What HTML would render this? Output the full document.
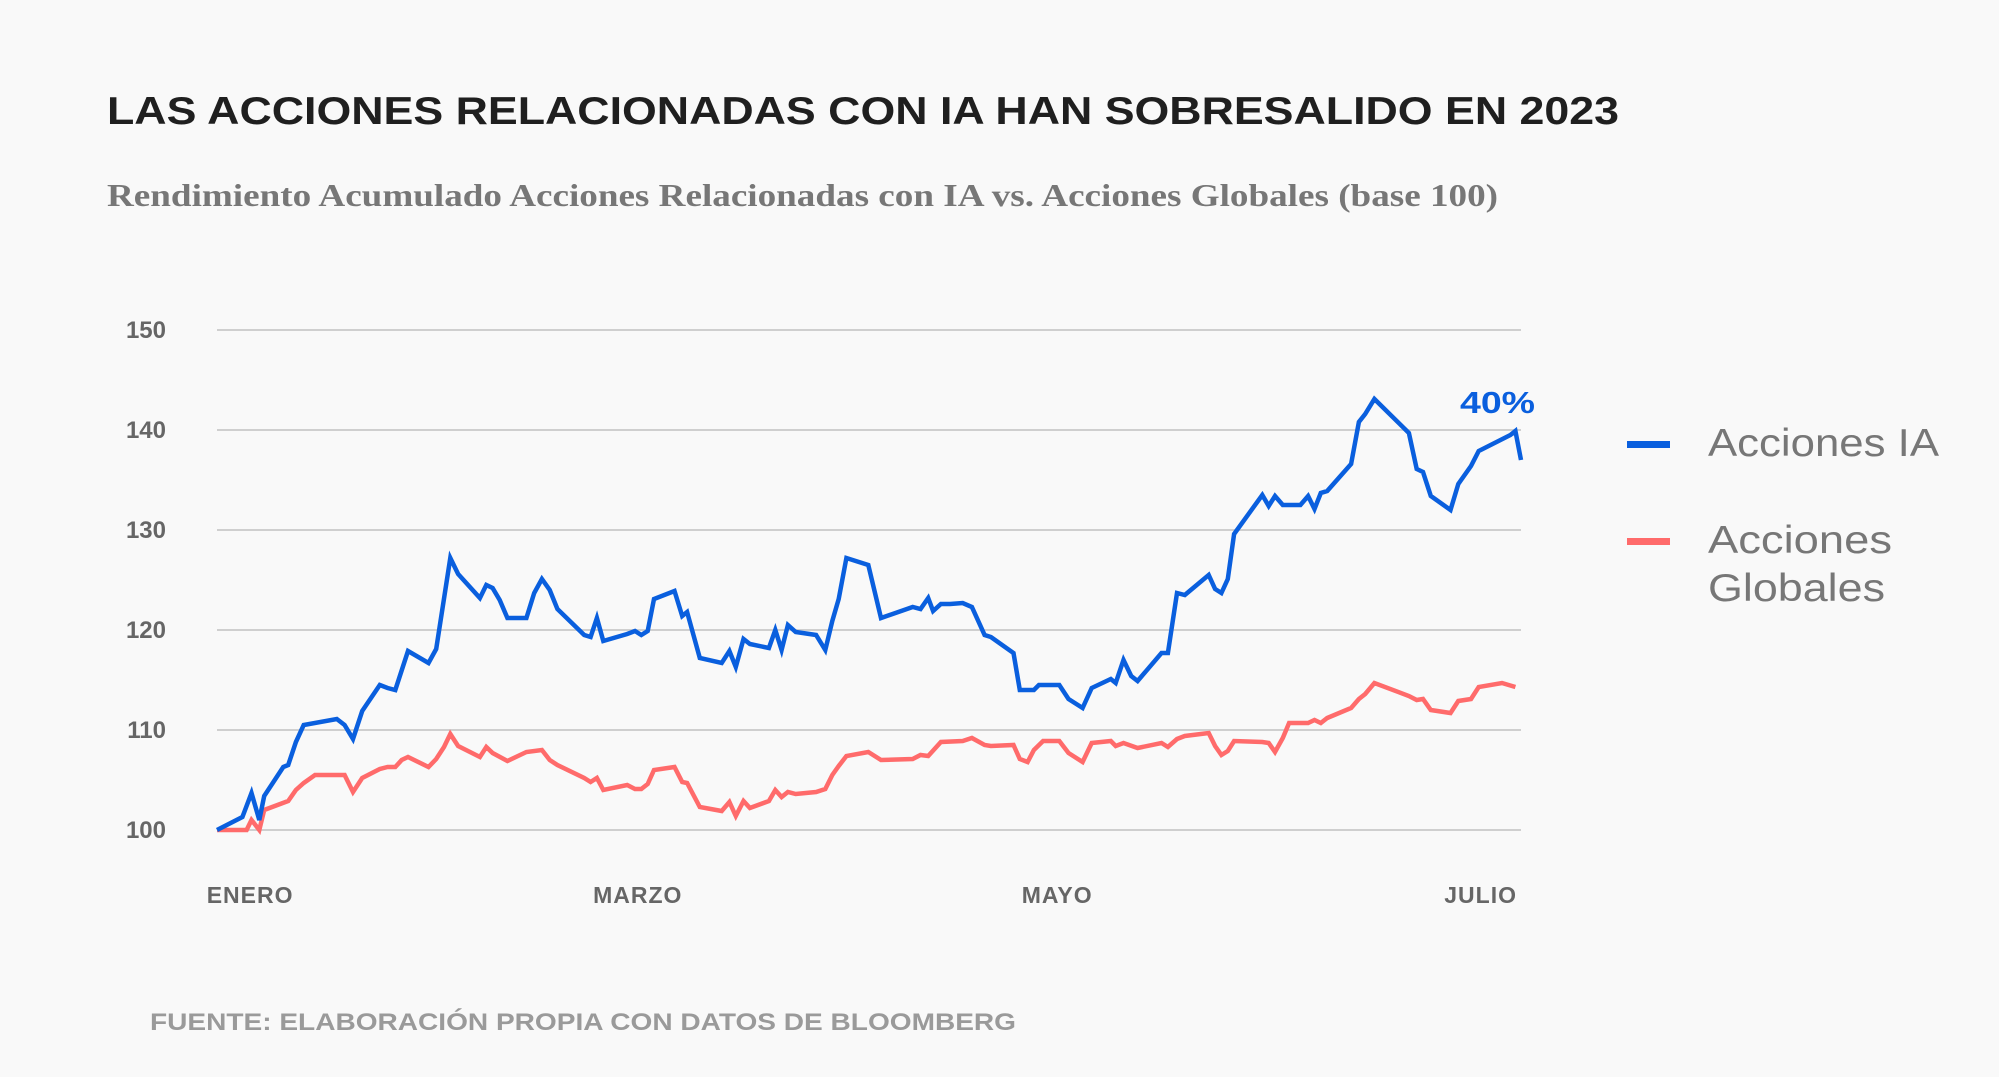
<!DOCTYPE html>
<html><head><meta charset="utf-8"><style>
html,body{margin:0;padding:0;background:#f9f9f9;}
svg{display:block;}
</style></head><body>
<svg id="chart" width="1999" height="1077" viewBox="0 0 1999 1077" xmlns="http://www.w3.org/2000/svg">
<rect width="1999" height="1077" fill="#f9f9f9"/>
<text x="107" y="124" font-family="Liberation Sans, sans-serif" font-weight="bold" font-size="39" fill="#1f1f1f" textLength="1512" lengthAdjust="spacingAndGlyphs">LAS ACCIONES RELACIONADAS CON IA HAN SOBRESALIDO EN 2023</text>
<text x="107" y="206" font-family="Liberation Serif, serif" font-weight="bold" font-size="32" fill="#777" textLength="1391" lengthAdjust="spacingAndGlyphs">Rendimiento Acumulado Acciones Relacionadas con IA vs. Acciones Globales (base 100)</text>
<g id="grid"></g>
<g id="yticks"></g>
<g id="xticks"></g>
<g id="series"></g>
<text x="1460" y="413" font-family="Liberation Sans, sans-serif" font-weight="bold" font-size="31" fill="#0a5fde" textLength="75" lengthAdjust="spacingAndGlyphs">40%</text>
<g>
<rect x="1627" y="441" width="43" height="7" fill="#0a5fde"/>
<text x="1708" y="456" font-family="Liberation Sans, sans-serif" font-size="39" fill="#777" textLength="231" lengthAdjust="spacingAndGlyphs">Acciones IA</text>
<rect x="1627" y="538" width="43" height="7" fill="#ff6b6b"/>
<text x="1708" y="553" font-family="Liberation Sans, sans-serif" font-size="39" fill="#777" textLength="184" lengthAdjust="spacingAndGlyphs">Acciones</text>
<text x="1708" y="601" font-family="Liberation Sans, sans-serif" font-size="39" fill="#777" textLength="177" lengthAdjust="spacingAndGlyphs">Globales</text>
</g>
<text x="150" y="1030" font-family="Liberation Sans, sans-serif" font-weight="bold" font-size="24" fill="#9a9a9a" textLength="866" lengthAdjust="spacingAndGlyphs">FUENTE: ELABORACIÓN PROPIA CON DATOS DE BLOOMBERG</text>
</svg>
<script>
const yTicks = [100, 110, 120, 130, 140, 150];
const xLabels = ["ENERO", "MARZO", "MAYO", "JULIO"];
const xLabelDays = [4.7, 59.7, 119.2, 181.5];
const iaDays = [0,3.6,4.9,6,6.7,9.4,10.1,11.2,12.3,17,18.1,19.3,20.6,23.1,24.2,25.3,27.1,30,31.1,33.1,34.2,37.3,38.2,39.1,40.1,41.2,43.9,45,46.1,47.2,48.3,52.1,53,53.9,54.8,58.2,59.3,60.2,61.1,62,64.9,66,66.7,68.5,71.6,72.7,73.6,74.7,75.6,78.3,79.2,80.1,81,82.1,85,86.3,87.3,88.2,89.3,92.4,94.2,98.7,99.8,100.9,101.6,102.7,104,105.8,107.1,108.9,109.8,113,113.9,115.9,116.6,119.5,120.8,122.8,124.1,126.8,127.5,128.6,129.7,130.6,134,134.9,136.2,137.3,140.7,141.6,142.5,143.4,144.3,148.3,149.2,150.1,151.2,153.7,154.8,155.7,156.6,157.5,160.9,162,162.9,164.2,169.1,170.2,171.1,172.2,175,176.1,177.9,179,183.5,184.2,185];
const iaValues = [100,101.3,103.7,101.0,103.4,106.3,106.5,108.8,110.5,111.1,110.5,109.1,111.9,114.5,114.2,114.0,117.9,116.7,118.1,127.2,125.6,123.2,124.5,124.2,123.0,121.2,121.2,123.7,125.1,124.0,122.1,119.5,119.3,121.2,118.9,119.6,119.9,119.5,119.9,123.1,123.9,121.4,121.8,117.2,116.7,117.9,116.3,119.1,118.6,118.2,120.0,118.0,120.5,119.8,119.5,118.0,120.9,123.1,127.2,126.5,121.2,122.3,122.1,123.2,121.9,122.6,122.6,122.7,122.3,119.5,119.3,117.7,114.0,114.0,114.5,114.5,113.1,112.2,114.2,115.1,114.7,117.0,115.4,114.9,117.7,117.7,123.7,123.5,125.5,124.1,123.7,125.1,129.6,133.5,132.4,133.4,132.5,132.5,133.4,132.1,133.7,133.9,136.6,140.8,141.6,143.1,139.7,136.1,135.8,133.4,132.0,134.6,136.4,137.9,139.5,139.9,137.0];
const glDays = [0,4.2,4.9,6,6.7,10.1,11.2,12.3,13.9,17,18.1,19.3,20.6,23.1,24.2,25.3,26.2,27.1,30,31.1,32.2,33.1,34.2,37.3,38.2,39.1,41.2,43.9,46.1,47.2,48.3,52.1,53,53.9,54.8,58.2,59.3,60.2,61.1,62,64.9,66,66.7,68.5,71.6,72.7,73.6,74.7,75.6,78.3,79.2,80.1,81,82.1,85,86.3,87.3,88.2,89.3,92.4,94.2,98.7,99.8,100.9,102.7,105.8,107.1,108.9,109.8,113,113.9,115,115.9,117.2,119.5,120.8,122.8,124.1,126.8,127.5,128.6,130.6,134,134.9,136.2,137.3,140.7,141.6,142.5,143.4,144.3,148.3,149.2,150.1,151.2,152.1,154.8,155.7,156.6,157.5,160.9,162,162.9,164.2,169.1,170.2,171.1,172.2,175,176.1,177.9,179,182.3,184.2];
const glValues = [100,100,101.0,100,102.0,102.9,104.0,104.7,105.5,105.5,105.5,103.8,105.2,106.1,106.3,106.3,107.0,107.3,106.3,107.1,108.3,109.6,108.4,107.3,108.3,107.7,106.9,107.8,108.0,107.0,106.5,105.2,104.8,105.2,104.0,104.5,104.1,104.1,104.6,106.0,106.3,104.8,104.7,102.3,101.9,102.8,101.4,102.9,102.2,102.9,104.0,103.3,103.8,103.6,103.8,104.1,105.5,106.4,107.4,107.8,107.0,107.1,107.5,107.4,108.8,108.9,109.2,108.5,108.4,108.5,107.1,106.8,108.0,108.9,108.9,107.7,106.8,108.7,108.9,108.4,108.7,108.2,108.7,108.3,109.1,109.4,109.7,108.4,107.5,107.9,108.9,108.8,108.7,107.8,109.2,110.7,110.7,111.0,110.7,111.2,112.2,113.1,113.6,114.7,113.4,113.0,113.1,112.0,111.7,112.9,113.1,114.3,114.7,114.3];

const NS = "http://www.w3.org/2000/svg";
const X0 = 217, X1 = 1521, DMAX = 185;
const Y100 = 830, PX_PER_UNIT = 10;
const xs = d => X0 + (d / DMAX) * (X1 - X0);
const ys = v => Y100 - (v - 100) * PX_PER_UNIT;

const grid = document.getElementById('grid');
const yt = document.getElementById('yticks');
yTicks.forEach(v => {
  const l = document.createElementNS(NS, 'line');
  l.setAttribute('x1', X0); l.setAttribute('x2', X1);
  l.setAttribute('y1', ys(v)); l.setAttribute('y2', ys(v));
  l.setAttribute('stroke', '#cfcfcf'); l.setAttribute('stroke-width', '2');
  
  
  grid.appendChild(l);
  const t = document.createElementNS(NS, 'text');
  t.setAttribute('x', 166); t.setAttribute('y', ys(v) + 8);
  t.setAttribute('text-anchor', 'end');
  t.setAttribute('font-family', 'Liberation Sans, sans-serif');
  t.setAttribute('font-weight', 'bold');
  t.setAttribute('font-size', '24');
  t.setAttribute('fill', '#666');
  t.textContent = v;
  
  
  yt.appendChild(t);
});
const xt = document.getElementById('xticks');
xLabels.forEach((lab, i) => {
  const t = document.createElementNS(NS, 'text');
  const last = i === xLabels.length - 1;
  t.setAttribute('x', last ? X1 - 4 : xs(xLabelDays[i])); t.setAttribute('y', 903);
  t.setAttribute('text-anchor', last ? 'end' : 'middle');
  t.setAttribute('font-family', 'Liberation Sans, sans-serif');
  t.setAttribute('font-weight', 'bold');
  t.setAttribute('font-size', '23');
  t.setAttribute('fill', '#666');
  t.setAttribute('letter-spacing', '1');
  t.textContent = lab;
  
  
  xt.appendChild(t);
});
const series = document.getElementById('series');
function drawLine(days, vals, color, name) {
  const p = document.createElementNS(NS, 'polyline');
  p.setAttribute('points', days.map((d, i) => xs(d).toFixed(1) + ',' + ys(vals[i]).toFixed(1)).join(' '));
  p.setAttribute('fill', 'none');
  p.setAttribute('stroke', color);
  p.setAttribute('stroke-width', '4.5');
  p.setAttribute('stroke-linejoin', 'miter');
  
  
  series.appendChild(p);
}
drawLine(glDays, glValues, '#ff6b6b', 'global-stocks-line');
drawLine(iaDays, iaValues, '#0a5fde', 'ai-stocks-line');
</script>
</body></html>
